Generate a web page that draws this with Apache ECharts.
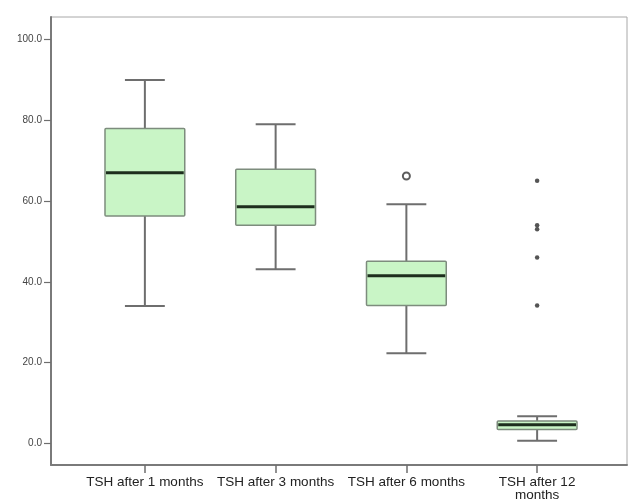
<!DOCTYPE html>
<html>
<head>
<meta charset="utf-8">
<script src="https://cdn.jsdelivr.net/npm/echarts@6/dist/echarts.min.js"></script>
<style>
html,body{margin:0;padding:0;background:#fff;}
#c{width:629px;height:504px;}
</style>
</head>
<body>
<div id="c"></div>
<script>
// Data
var categories = ['TSH after 1 months', 'TSH after 3 months', 'TSH after 6 months', 'TSH after 12\nmonths'];
var whiskerLow = [34.0, 43.1, 22.3, 0.6];
var q1 = [56.3, 54.0, 34.1, 3.4];
var median = [67.0, 58.6, 41.5, 4.6];
var q3 = [78.0, 67.9, 45.1, 5.5];
var whiskerHigh = [90.0, 79.0, 59.2, 6.7];
var outliers = [[2, 66.2]];            // open circles
var extremes = [[3, 65.0], [3, 54.0], [3, 53.0], [3, 46.0], [3, 34.1]]; // stars
var yTicks = [0, 20, 40, 60, 80, 100];
var yMin = -5.4, yMax = 105.6;

var boxData = categories.map(function (c, i) {
  return [i, whiskerLow[i], q1[i], median[i], q3[i], whiskerHigh[i]];
});

var chart = echarts.init(document.getElementById('c'), null, {renderer: 'canvas'});

function renderBox(params, api) {
  var idx = api.value(0);
  var band = api.size([1, 0])[0];
  var bw = band * 0.61;
  var cw = bw / 4;
  var pLow = api.coord([idx, api.value(1)]);
  var pQ1 = api.coord([idx, api.value(2)]);
  var pMed = api.coord([idx, api.value(3)]);
  var pQ3 = api.coord([idx, api.value(4)]);
  var pHigh = api.coord([idx, api.value(5)]);
  var x = pMed[0];
  var wStyle = {stroke: '#6e6e6e', lineWidth: 2};
  return {
    type: 'group',
    children: [
      {type: 'line', shape: {x1: x, y1: pLow[1], x2: x, y2: pQ1[1]}, style: wStyle},
      {type: 'line', shape: {x1: x, y1: pQ3[1], x2: x, y2: pHigh[1]}, style: wStyle},
      {type: 'line', shape: {x1: x - cw, y1: pLow[1], x2: x + cw, y2: pLow[1]}, style: wStyle},
      {type: 'line', shape: {x1: x - cw, y1: pHigh[1], x2: x + cw, y2: pHigh[1]}, style: wStyle},
      {type: 'rect', shape: {x: x - bw / 2, y: pQ3[1], width: bw, height: pQ1[1] - pQ3[1], r: 1},
        style: {fill: '#c9f5c6', stroke: '#7d8c7d', lineWidth: 1.5}},
      {type: 'line', shape: {x1: x - bw / 2 + 1, y1: pMed[1], x2: x + bw / 2 - 1, y2: pMed[1]},
        style: {stroke: '#1d2e1d', lineWidth: 3}}
    ]
  };
}

chart.setOption({
  animation: false,
  backgroundColor: '#fff',
  grid: [
    {left: 51, right: 2, top: 17, bottom: 39, show: true, borderColor: '#a8a8a8', borderWidth: 1, backgroundColor: 'transparent'},
    {left: 79.5, right: 26.5, top: 17, bottom: 39}
  ],
  xAxis: [
    {gridIndex: 0, type: 'value', min: 0, max: 1,
      axisLine: {show: true, onZero: false, lineStyle: {color: '#7a7a7a', width: 2}},
      axisTick: {show: false}, axisLabel: {show: false}, splitLine: {show: false}},
    {gridIndex: 1, type: 'category', data: categories, boundaryGap: true, position: 'bottom',
      axisLine: {show: false, onZero: false},
      axisTick: {show: true, alignWithLabel: true, length: 8, lineStyle: {color: '#6e6e6e', width: 1.5}},
      axisLabel: {interval: 0, fontFamily: 'Liberation Sans, Arial, sans-serif', fontSize: 13.5, color: '#222', margin: 11, lineHeight: 13},
      splitLine: {show: false}}
  ],
  yAxis: [
    {gridIndex: 0, type: 'value', min: yMin, max: yMax,
      axisLine: {show: true, onZero: false, lineStyle: {color: '#7a7a7a', width: 2}},
      axisTick: {show: true, length: 7, customValues: yTicks, lineStyle: {color: '#6e6e6e', width: 1.2}},
      axisLabel: {customValues: yTicks, fontFamily: 'Liberation Sans, Arial, sans-serif', fontSize: 10, color: '#444', margin: 9,
        formatter: function (v) { return v.toFixed(1); }},
      splitLine: {show: false}},
    {gridIndex: 1, type: 'value', min: yMin, max: yMax, show: false, splitLine: {show: false}}
  ],
  series: [
    {type: 'custom', xAxisIndex: 1, yAxisIndex: 1, data: boxData, renderItem: renderBox,
      encode: {x: 0, y: [1, 2, 3, 4, 5]}},
    {type: 'scatter', xAxisIndex: 1, yAxisIndex: 1, data: outliers, symbol: 'emptyCircle', symbolSize: 7,
      itemStyle: {color: '#333', borderColor: '#333', borderWidth: 1.6}},
    {type: 'scatter', xAxisIndex: 1, yAxisIndex: 1, data: extremes, symbol: 'circle', symbolSize: 4.5,
      itemStyle: {color: '#2a2a2a'}}
  ]
});
</script>
</body>
</html>
